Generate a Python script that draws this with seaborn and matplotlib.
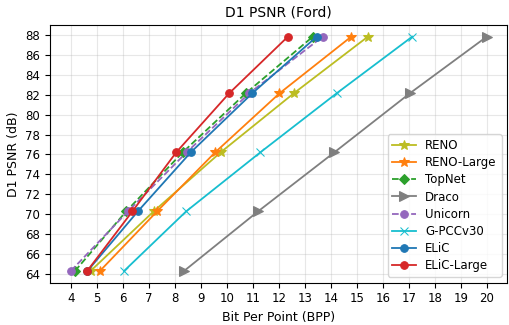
import numpy as np
import pandas as pd
import matplotlib
matplotlib.use("Agg")
import matplotlib.pyplot as plt
import seaborn as sns

# ----------------------------
# Data
# ----------------------------
psnr = [64.25, 70.25, 76.2, 82.15, 87.85]

reno_bpp = [4.74, 7.17, 9.75, 12.57, 15.42]
reno_large_bpp = [5.10, 7.30, 9.54, 12.02, 14.78]
topnet_bpp = [4.14, 6.11, 8.29, 10.72, 13.30]
draco_bpp = [8.34, 11.19, 14.13, 17.04, 20.0]
unicorn_bpp = [3.98, 6.18, 8.44, 10.85, 13.68]
gpcc_bpp = [6.03, 8.42, 11.28, 14.22, 17.13]
elic_bpp = [4.62, 6.56, 8.60, 10.97, 13.45]
elic_large_bpp = [4.61, 6.35, 8.04, 10.08, 12.34]

methods = ["RENO", "RENO-Large", "TopNet", "Draco", "Unicorn",
           "G-PCCv30", "ELiC", "ELiC-Large"]
bpp = [reno_bpp, reno_large_bpp, topnet_bpp, draco_bpp, unicorn_bpp,
       gpcc_bpp, elic_bpp, elic_large_bpp]

styles = {
    "RENO":       dict(color="tab:olive",  marker="*", ls="-",  ms=7),
    "RENO-Large": dict(color="tab:orange", marker="*", ls="-",  ms=7),
    "TopNet":     dict(color="tab:green",  marker="D", ls="--", ms=5),
    "Draco":      dict(color="tab:gray",   marker=">", ls="-",  ms=6.5),
    "Unicorn":    dict(color="tab:purple", marker="o", ls="--", ms=5.5),
    "G-PCCv30":   dict(color="tab:cyan",   marker="x", ls="-",  ms=6),
    "ELiC":       dict(color="tab:blue",   marker="o", ls="-",  ms=5.5),
    "ELiC-Large": dict(color="tab:red",    marker="o", ls="-",  ms=5.5),
}

# ----------------------------
# Plot
# ----------------------------
fig, ax = plt.subplots(figsize=(5.1, 3.25), dpi=100)

for name, xs in zip(methods, bpp):
    st = styles[name]
    sns.lineplot(x=xs, y=psnr, ax=ax, label=name, color=st["color"],
                 marker=st["marker"], linestyle=st["ls"], markersize=st["ms"],
                 markeredgecolor=st["color"], linewidth=1.3)

ax.set_xticks(range(4, 21))
ax.set_yticks(range(64, 89, 2))
ax.grid(True, alpha=0.3)
ax.set_title("D1 PSNR (Ford)", fontsize=10)
ax.set_xlabel("Bit Per Point (BPP)", fontsize=9)
ax.set_ylabel("D1 PSNR (dB)", fontsize=9)
ax.tick_params(labelsize=8.5)
ax.legend(loc="lower right", fontsize=8.5, labelspacing=0.35)

plt.subplots_adjust(left=0.098, right=0.995, top=0.923, bottom=0.13)
plt.savefig("out.png")
